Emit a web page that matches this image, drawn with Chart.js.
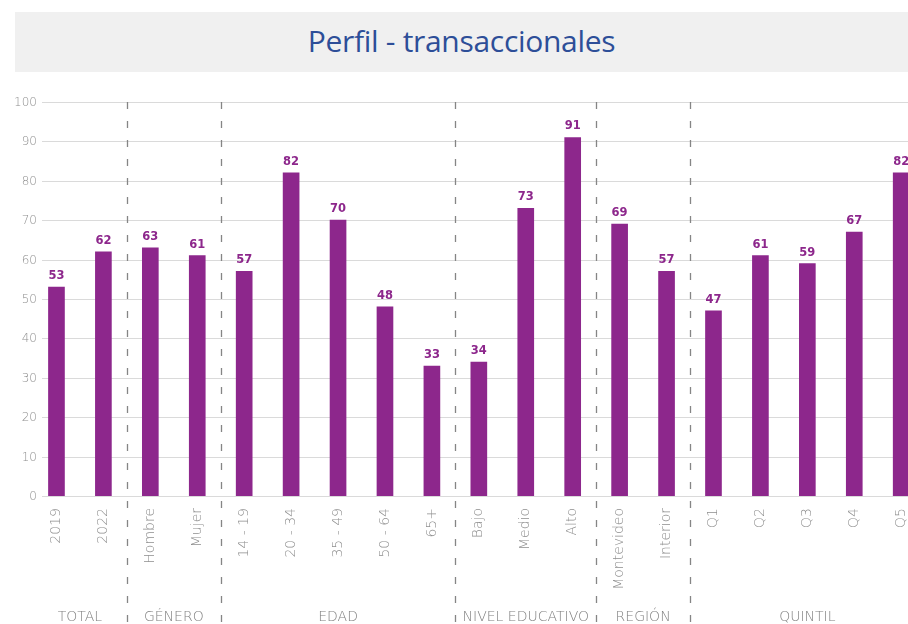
<!DOCTYPE html>
<html>
<head>
<meta charset="utf-8">
<title>Perfil - transaccionales</title>
<script src="https://cdn.jsdelivr.net/npm/chart.js"></script>
<style>
  html, body { margin:0; padding:0; background:#fff; overflow:hidden; width:908px; height:624px; }
  .wrap { position:relative; width:908px; height:624px; overflow:hidden; }
  .title {
    position:absolute; left:15px; top:12px; width:893px; height:60px;
    background:#f0f0f0; color:#2d4e98; font-family:"Open Sans", sans-serif;
    font-size:30px; line-height:58px; text-align:center; letter-spacing:-0.3px;
  }
  canvas { position:absolute; left:0; top:0; }
</style>
</head>
<body>
<div class="wrap">
  <canvas id="chart" width="930" height="624"></canvas>
  <div class="title">Perfil - transaccionales</div>
</div>

<script>
const categories = ["2019", "2022", "Hombre", "Mujer", "14 - 19", "20 - 34", "35 - 49", "50 - 64", "65+",
  "Bajo", "Medio", "Alto", "Montevideo", "Interior", "Q1", "Q2", "Q3", "Q4", "Q5"];
const values = [53, 62, 63, 61, 57, 82, 70, 48, 33, 34, 73, 91, 69, 57, 47, 61, 59, 67, 82];
const groupNames = ["TOTAL", "GÉNERO", "EDAD", "NIVEL EDUCATIVO", "REGIÓN", "QUINTIL"];
const groupSizes = [2, 2, 5, 3, 2, 5];
const yTicks = [0, 10, 20, 30, 40, 50, 60, 70, 80, 90, 100];

const purple = "#8d278c";
const axisGrey = "#8f8f8f";

// grid lines + y labels, the lines start a bit right of the plot edge like the original
const gridPlugin = {
  id: "grid",
  beforeDatasetsDraw(chart) {
    const ctx = chart.ctx, y = chart.scales.y;
    ctx.save();
    ctx.strokeStyle = "#dadada";
    ctx.lineWidth = 1;
    ctx.fillStyle = axisGrey;
    ctx.font = "300 12px 'DejaVu Sans'";
    ctx.textAlign = "right";
    ctx.textBaseline = "middle";
    yTicks.forEach(t => {
      const py = Math.round(y.getPixelForValue(t)) + 0.5;
      ctx.beginPath();
      ctx.moveTo(42, py);
      ctx.lineTo(chart.width, py);
      ctx.stroke();
      ctx.fillText(t, 37, py);
    });
    ctx.restore();
  }
};

// dashed separators, group names and value labels
const extrasPlugin = {
  id: "extras",
  afterDatasetsDraw(chart) {
    const ctx = chart.ctx, x = chart.scales.x, area = chart.chartArea;
    const bars = chart.getDatasetMeta(0).data;
    ctx.save();

    ctx.fillStyle = purple;
    ctx.font = "bold 11.5px 'DejaVu Sans'";
    ctx.textAlign = "center";
    ctx.textBaseline = "alphabetic";
    bars.forEach((b, i) => {
      ctx.fillText(values[i], b.x, b.y - 8);
    });

    let start = 0;
    const edges = [area.left];
    groupSizes.forEach(n => {
      start += n;
      if (start < categories.length) {
        edges.push((x.getPixelForValue(start - 1) + x.getPixelForValue(start)) / 2);
      } else {
        edges.push(area.right);
      }
    });

    ctx.strokeStyle = "#858585";
    ctx.lineWidth = 1.3;
    ctx.setLineDash([7, 12]);
    edges.slice(1, -1).forEach(px => {
      ctx.beginPath();
      ctx.moveTo(Math.round(px) + 0.5, area.top);
      ctx.lineTo(Math.round(px) + 0.5, chart.height);
      ctx.stroke();
    });
    ctx.setLineDash([]);

    ctx.fillStyle = "#808080";
    ctx.font = "300 14px 'DejaVu Sans'";
    groupNames.forEach((name, i) => {
      ctx.fillText(name, (edges[i] + edges[i + 1]) / 2, 621);
    });
    ctx.restore();
  }
};

new Chart(document.getElementById("chart"), {
  type: "bar",
  data: {
    labels: categories,
    datasets: [{
      data: values,
      backgroundColor: purple,
      barThickness: 16
    }]
  },
  options: {
    responsive: false,
    animation: false,
    devicePixelRatio: 1,
    layout: { padding: { top: 102, left: 0, right: 0, bottom: 0 } },
    plugins: { legend: { display: false }, tooltip: { enabled: false } },
    scales: {
      x: {
        grid: { display: false, drawTicks: false },
        border: { display: false },
        ticks: {
          color: axisGrey,
          font: { family: "DejaVu Sans", size: 14, weight: "300" },
          maxRotation: 90,
          minRotation: 90,
          padding: 12,
          autoSkip: false
        },
        afterFit(scale) { scale.height = 128; }
      },
      y: {
        min: 0,
        max: 100,
        grid: { display: false, drawTicks: false },
        border: { display: false },
        ticks: { stepSize: 10, display: false },
        afterFit(scale) { scale.width = 33; }
      }
    }
  },
  plugins: [gridPlugin, extrasPlugin]
});
</script>
</body>
</html>
